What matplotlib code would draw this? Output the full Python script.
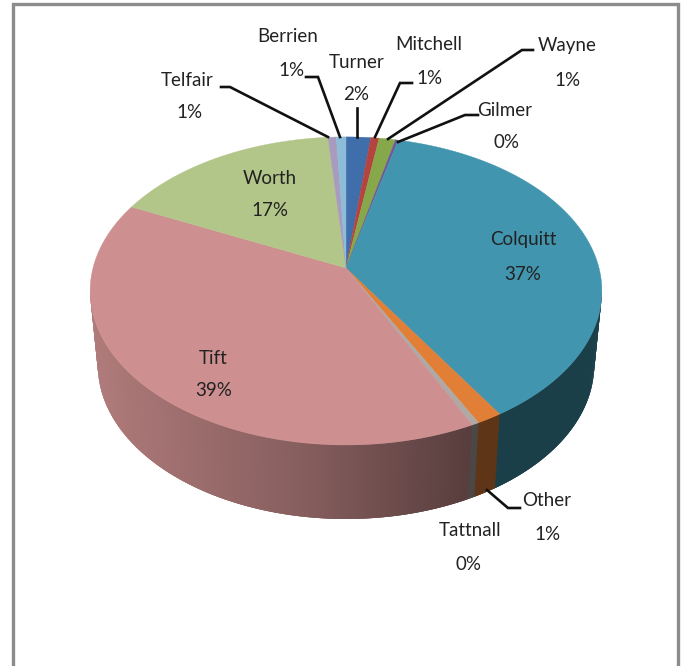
import numpy as np
import matplotlib
matplotlib.use('Agg')
import matplotlib.pyplot as plt

# 各县占比，从12点方向顺时针
names = ['Turner', 'Mitchell', 'Wayne', 'Gilmer', 'Colquitt', 'Other', 'Tattnall',
         'Tift', 'Worth', 'Telfair', 'Berrien']
values = [1.8, 0.6, 1.2, 0.2, 37.3, 1.4, 0.4, 39.2, 16.6, 0.6, 0.7]
colors = ['#3f6eaa', '#b5433f', '#86a84a', '#6f5798', '#4195ae', '#e07f35', '#b0a8a4',
          '#cd8f8f', '#b3c68a', '#a89bbd', '#8cbcd8']

# 标签中心位置（像素）：名称、百分比
name_pos = [(357, 62), (429, 45), (567, 46), (505, 110), (523, 240), (547, 501),
            (470, 530), (213, 358), (270, 178), (187, 81), (288, 36)]
pct_pos = [(356, 95), (430, 78), (567, 80), (507, 142), (523, 274), (547, 534),
           (469, 564), (214, 390), (270, 211), (189, 112), (291, 70)]

# 引线
leaders = [[(221, 87), (230, 87), (328, 137)],
           [(306, 77), (318, 77), (340, 137)],
           [(357, 108), (357, 137)],
           [(412, 83), (400, 83), (375, 137)],
           [(533, 50), (522, 50), (388, 139)],
           [(478, 115), (465, 115), (398, 142)],
           [(520, 508), (508, 508), (487, 490)]]

# 饼的透视参数
cx, cy = 346, 268
A, B, k = 150.6, 253, 0.149
depth = 74
wall_scale = 0.97


def project(theta):
    # theta从12点顺时针，单位圆投影到屏幕
    u, v = np.sin(theta), np.cos(theta)
    w = 1 + k * v
    return B * u / w, -A * v / w


def wall_color(c, x):
    rgb = np.array(matplotlib.colors.to_rgb(c))
    return tuple(rgb * np.interp(x, [90, 130, 300, 480, 602], [0.86, 0.82, 0.66, 0.42, 0.42]))


fig = plt.figure(figsize=(6.83, 6.66), dpi=100)
ax = fig.add_axes([0, 0, 1, 1])
ax.set_xlim(0, 683)
ax.set_ylim(666, 0)
ax.axis('off')

# 外框，下边没有
ax.plot([13, 13, 678, 678], [666, 4, 4, 666], color='#8c8c8c', lw=2.4, solid_joinstyle='miter')

edges = np.cumsum([0] + values) / sum(values) * 2 * np.pi
th_lim = np.arccos(-k)

# 侧面，每条往后多画一点，让下一条盖住，避免缝隙
for i in range(len(values)):
    t0, t1 = max(edges[i], th_lim), min(edges[i + 1], 2 * np.pi - th_lim)
    if t1 <= t0:
        continue
    ts = np.linspace(t0, t1, max(2, int((t1 - t0) / 0.006)))
    for a, b in zip(ts[:-1], ts[1:]):
        b2 = min(b + 0.012, 2 * np.pi - th_lim)
        xa, ya = project(np.array([a, b2]))
        px = np.r_[cx + xa, cx + xa[::-1] * wall_scale]
        py = np.r_[cy + ya, cy + ya[::-1] + depth]
        c = wall_color(colors[i], px[0])
        ax.fill(px, py, color=c, lw=0)

# 顶面
for i in range(len(values)):
    ts = np.linspace(edges[i], edges[i + 1], 80)
    x, y = project(ts)
    ax.fill(np.r_[cx, cx + x], np.r_[cy, cy + y], color=colors[i], lw=0.3)

for pts in leaders:
    xs, ys = zip(*pts)
    ax.plot(xs, ys, color='#111111', lw=1.9, solid_joinstyle='miter')

for i in range(len(names)):
    ax.text(name_pos[i][0], name_pos[i][1], names[i], ha='center', va='center',
            family='Lato', fontsize=13.5, color='#222222')
    ax.text(pct_pos[i][0], pct_pos[i][1], '%d%%' % round(values[i]), ha='center', va='center',
            family='Lato', fontsize=13.5, color='#222222')

fig.savefig('out.png', dpi=100)
